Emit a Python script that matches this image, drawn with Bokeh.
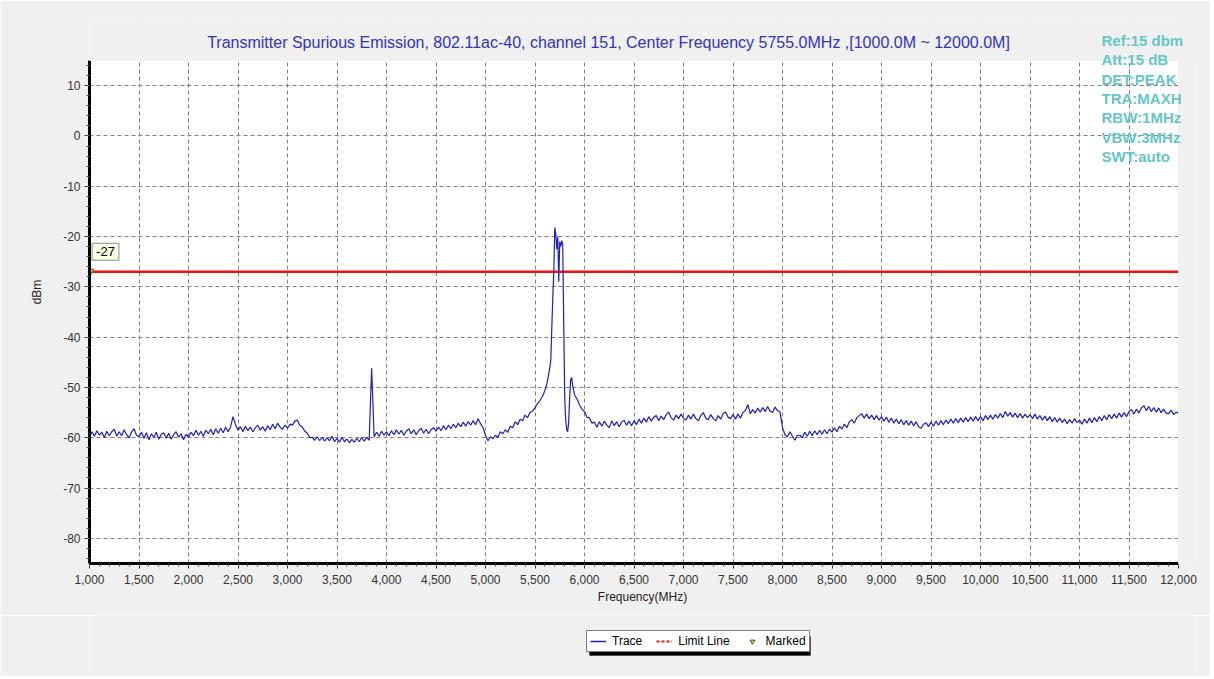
import numpy as np
from bokeh.plotting import figure
from bokeh.layouts import column
from bokeh.models import (Range1d, FixedTicker, NumeralTickFormatter, Label, Legend, LegendItem,
                          BoxAnnotation)
from bokeh.embed import file_html
from bokeh.resources import INLINE

title_text = "Transmitter Spurious Emission, 802.11ac-40, channel 151, Center Frequency 5755.0MHz ,[1000.0M ~ 12000.0M]"
settings = ["Ref:15 dbm", "Att:15 dB", "DET:PEAK", "TRA:MAXH", "RBW:1MHz", "VBW:3MHz", "SWT:auto"]
legend_labels = ["Trace", "Limit Line", "Marked"]
limit_db = -27
x_min, x_max = 1000, 12000
y_min, y_max = -85, 15
x_ticks = list(range(1000, 12001, 500))
x_minor = list(range(1000, 12001, 100))
y_ticks = list(range(-80, 11, 10))
y_minor = list(range(-84, 15, 2))

# trace, segment 1: 1000..5600 MHz every 25 MHz
seg1_levels = [
    -59.9, -58.8, -59.7, -58.6, -59.5, -58.9, -60.0, -58.7, -59.6, -58.8, -58.3, -59.7, -58.8, -59.6, -58.4, -59.4, -60.0, -58.9, -58.2, -59.5,
    -59.8, -58.9, -60.1, -59.0, -60.4, -59.2, -59.9, -58.9, -60.3, -59.3, -59.0, -60.1, -59.1, -60.3, -59.4, -58.8, -59.9, -59.2, -60.4, -59.3,
    -59.9, -58.9, -59.6, -58.5, -59.5, -58.7, -59.7, -58.5, -59.2, -58.3, -59.4, -58.2, -59.1, -58.1, -59.0, -57.9, -58.8, -57.8, -55.8, -57.4,
    -58.5, -57.8, -58.8, -57.7, -58.6, -57.9, -58.8, -58.0, -57.5, -58.5, -57.8, -58.7, -57.6, -58.4, -57.3, -58.2, -57.1, -57.9, -58.3, -57.5,
    -58.1, -57.3, -57.5, -56.7, -56.5, -57.5, -57.9, -58.7, -59.1, -60.0, -59.9, -60.5, -59.8, -60.6, -59.9, -60.7, -60.0, -60.6, -59.7, -60.8,
    -60.1, -60.9, -59.9, -60.8, -60.2, -61.0, -60.3, -60.9, -60.1, -60.8, -59.9, -60.7, -59.9, -60.5, -46.2, -59.8, -58.9, -59.7, -58.7, -59.5,
    -58.8, -59.6, -58.6, -59.4, -58.4, -59.3, -58.5, -59.5, -58.7, -58.2, -59.2, -58.4, -59.4, -58.6, -58.1, -59.1, -58.3, -59.2, -58.4, -58.0,
    -58.7, -57.9, -58.6, -57.6, -58.4, -57.5, -58.2, -57.3, -58.0, -57.1, -57.8, -56.9, -57.7, -56.8, -57.5, -56.6, -57.4, -56.2, -57.2, -58.0,
    -59.5, -60.6, -59.8, -60.2, -59.5, -59.9, -58.8, -59.2, -58.4, -58.9, -57.7, -58.0, -56.8, -57.4, -56.3, -56.6, -55.5, -56.0, -55.0, -54.7,
    -54.0, -53.2, -52.6, -51.8, -50.6,
]
# segment 2: 5610..5900 MHz every 10 MHz (carrier)
seg2_levels = [
    -50.0, -49.2, -48.3, -47.2, -46.0, -44.5, -38.0, -32.0, -27.0, -18.2,
    -19.5, -22.5, -20.0, -29.0, -21.0, -22.0, -20.8, -21.5, -37.0, -52.0,
    -56.5, -58.3, -58.8, -57.0, -52.0, -48.5, -48.0, -49.5, -50.6, -51.5,
]
# segment 3: 5925..12000 MHz every 25 MHz
seg3_levels = [
    -52.3, -53.5, -54.3,
    -54.8, -55.9, -56.0, -57.1, -56.9, -57.9, -56.8, -57.7, -56.7, -57.5, -58.0, -56.6, -57.6, -56.8, -57.8, -56.9, -56.5, -57.5, -56.7, -57.6,
    -56.6, -57.4, -56.3, -57.1, -56.1, -56.9, -55.8, -56.7, -55.9, -55.6, -56.6, -55.7, -56.4, -55.4, -54.9, -56.0, -56.5, -55.5, -56.2, -55.3,
    -56.1, -56.5, -55.5, -56.3, -55.3, -56.2, -56.6, -55.6, -55.0, -56.1, -56.4, -55.4, -56.2, -56.6, -55.6, -56.3, -55.2, -54.9, -55.9, -56.2,
    -55.4, -56.3, -55.3, -56.1, -55.0, -54.6, -53.4, -55.2, -54.4, -55.1, -54.1, -54.9, -54.0, -54.8, -53.8, -54.7, -55.0, -53.9, -54.6, -54.9,
    -58.0, -59.4, -59.8, -58.8, -59.7, -60.5, -59.5, -59.5, -60.0, -58.9, -59.7, -58.7, -59.6, -58.6, -59.4, -58.5, -59.3, -58.4, -59.2, -58.3,
    -58.9, -58.0, -58.8, -57.7, -58.3, -57.3, -58.0, -56.8, -56.4, -57.1, -56.0, -55.6, -55.2, -56.1, -55.3, -56.2, -55.5, -56.4, -55.6, -56.5,
    -55.8, -56.7, -55.9, -56.9, -56.1, -57.1, -56.3, -57.2, -56.4, -57.4, -56.6, -57.5, -56.7, -57.6, -56.8, -57.8, -58.1, -57.3, -57.0, -57.8,
    -56.9, -57.7, -56.7, -57.5, -56.6, -57.4, -56.5, -57.2, -56.3, -57.1, -56.2, -57.0, -56.1, -56.9, -56.0, -56.8, -55.9, -56.7, -55.8, -56.6,
    -55.8, -56.6, -55.6, -56.4, -55.5, -56.3, -55.4, -56.1, -55.2, -56.0, -54.8, -55.7, -55.0, -55.9, -55.1, -56.0, -55.2, -56.1, -55.3, -56.0,
    -55.4, -56.2, -55.3, -56.3, -55.6, -56.5, -55.7, -56.6, -55.8, -56.8, -56.0, -56.9, -56.1, -57.0, -56.3, -57.2, -56.4, -57.1, -56.2, -57.0,
    -56.5, -57.3, -56.3, -57.1, -56.1, -57.0, -56.0, -56.8, -55.8, -56.6, -55.6, -56.4, -55.4, -56.2, -55.3, -56.1, -55.1, -55.9, -55.0, -55.8,
    -54.8, -54.4, -55.3, -54.3, -55.1, -54.1, -53.6, -54.6, -53.8, -54.8, -54.0, -54.9, -54.1, -55.0, -54.3, -55.1, -55.2, -54.5, -55.4, -54.9,
    -55.1,
]
seg1_freq = np.arange(1000, 5601, 25)
seg2_freq = np.arange(5610, 5901, 10)
seg3_freq = np.arange(5925, 12001, 25)

freq = np.concatenate([seg1_freq, seg2_freq, seg3_freq])
level = np.array(seg1_levels + seg2_levels + seg3_levels)

FONT = "Liberation Sans"
GRAY = "#f0f0f0"
TRACE_COLOR = "#2020b8"
LIMIT_COLOR = "#ee1111"
MARK_FILL = "#f0e020"

# pixel geometry: the frame extends above / right of the data area so that the
# header texts are not clipped; those bands are painted gray
PX_PER_MHZ = 1089 / 11000
PX_PER_DB = 503 / 100
top_extra_px = 40
right_extra_px = 17
W = 1210
x_end = x_max + right_extra_px / PX_PER_MHZ
y_end = y_max + top_extra_px / PX_PER_DB

p = figure(width=W, height=615, output_backend="svg", toolbar_location=None,
           x_range=Range1d(x_min, x_end), y_range=Range1d(y_min, y_end),
           min_border_left=89, min_border_right=15, min_border_top=20, min_border_bottom=52)
p.border_fill_color = GRAY
p.background_fill_color = "white"
p.outline_line_color = None

# axes
p.xaxis.ticker = FixedTicker(ticks=x_ticks, minor_ticks=x_minor)
p.yaxis.ticker = FixedTicker(ticks=y_ticks, minor_ticks=y_minor)
p.xaxis.formatter = NumeralTickFormatter(format="0,0")
p.yaxis.formatter = NumeralTickFormatter(format="0")
p.xaxis.bounds = (x_min, x_max)
p.yaxis.bounds = (y_min, y_max)
for ax in (p.xaxis[0], p.yaxis[0]):
    ax.axis_line_width = 3
    ax.axis_line_color = "black"
    ax.major_tick_line_color = "#333333"
    ax.minor_tick_line_color = "#555555"
    ax.major_tick_out = 5
    ax.major_tick_in = 0
    ax.minor_tick_out = 3
    ax.minor_tick_in = 0
    ax.major_label_text_font = FONT
    ax.major_label_text_font_size = "12px"
    ax.major_label_text_color = "#333333"
    ax.axis_label_text_font = FONT
    ax.axis_label_text_font_size = "12px"
    ax.axis_label_text_font_style = "normal"
    ax.axis_label_text_color = "#222222"
p.xaxis.axis_label = "Frequency(MHz)"
p.yaxis.axis_label = "dBm"
p.xaxis.major_label_standoff = 6
p.yaxis.major_label_standoff = 4
p.xaxis.axis_label_standoff = 3
p.yaxis.axis_label_standoff = 16

p.grid.grid_line_color = "#808080"
p.grid.grid_line_dash = "4 3"
p.grid.grid_line_width = 1

# limit line
p.line([x_min, x_max], [limit_db, limit_db], line_color=LIMIT_COLOR, line_width=2.5)

# trace
p.line(freq, level, line_color=TRACE_COLOR, line_width=1.2)

# marker
p.scatter([x_min], [limit_db], marker="inverted_triangle", size=9,
          fill_color=MARK_FILL, line_color="#555555")

# gray bands above / right of the data area
p.add_layout(BoxAnnotation(left=x_min, right=x_end, bottom=y_max, top=y_end, level="overlay",
                           fill_color=GRAY, fill_alpha=1.0, line_color=GRAY, line_alpha=1.0, line_width=1))
p.add_layout(BoxAnnotation(left=x_max, right=x_end, bottom=y_min, top=y_end, level="overlay",
                           fill_color=GRAY, fill_alpha=1.0, line_color=GRAY, line_alpha=1.0, line_width=1))

p.add_layout(Label(x=x_min, y=limit_db, text=str(limit_db), x_offset=16, y_offset=20, level="overlay",
                   text_align="center", text_baseline="middle", text_font=FONT,
                   text_font_size="13px", text_color="black",
                   background_fill_color="#ffffe6", border_line_color="#8a8a8a",
                   padding=4))

# title
p.add_layout(Label(x=x_min + (608 - 89) / PX_PER_MHZ, y=y_max + 18 / PX_PER_DB, text=title_text,
                   level="overlay", text_align="center", text_baseline="middle",
                   text_font=FONT, text_font_size="16px", text_color="#3333bb"))

# settings text
for i, s in enumerate(settings):
    p.add_layout(Label(x=x_min + (1101 - 89) / PX_PER_MHZ, y=y_max + (20 - 19.3 * i) / PX_PER_DB,
                       text=s, level="overlay", text_align="left", text_baseline="middle",
                       text_font=FONT, text_font_size="15px", text_font_style="bold",
                       text_color="#66c6c6"))

# legend strip (separate figure under the chart; its frame is aligned with the chart's)
QH = 61
q = figure(width=W, height=QH, output_backend="svg", toolbar_location=None,
           x_range=Range1d(0, 1106), y_range=Range1d(0, QH),
           x_axis_type=None, y_axis_type=None,
           min_border_left=0, min_border_right=0, min_border_top=0, min_border_bottom=0)
q.border_fill_color = GRAY
q.background_fill_color = GRAY
q.outline_line_color = None
q.grid.visible = False

# legend swatch renderers: one point each, placed outside the strip's visible range
off = [-50]
l_trace = q.line(off, off, line_color=TRACE_COLOR, line_width=1.5)
l_limit = q.line(off, off, line_color=LIMIT_COLOR, line_dash="3 2", line_width=2)
l_mark = q.scatter(off, off, marker="inverted_triangle", size=12, fill_color=MARK_FILL, line_color="#444444")

leg_x, leg_y, leg_w, leg_h = 497, 24, 221, 19
# drop shadow of the legend box
q.add_layout(BoxAnnotation(left=leg_x + 3, right=leg_x + 3 + leg_w, bottom=leg_y - 3, top=leg_y - 3 + leg_h,
                           fill_color="black", fill_alpha=1.0, line_color="black", level="underlay"))
legend = Legend(items=[LegendItem(label=t, renderers=[r]) for t, r in zip(legend_labels, [l_trace, l_limit, l_mark])],
                location=(leg_x, leg_y), background_fill_color="white", background_fill_alpha=1,
                border_line_color="black", border_line_width=1, label_text_color="black",
                orientation="horizontal", label_text_font=FONT, label_text_font_size="12px",
                glyph_width=16, glyph_height=12, label_standoff=6, spacing=14,
                padding=3, margin=0, label_height=12)
q.add_layout(legend, "center")

layout = column(p, q, spacing=0)
open("out.html", "w").write(file_html(layout, INLINE))
